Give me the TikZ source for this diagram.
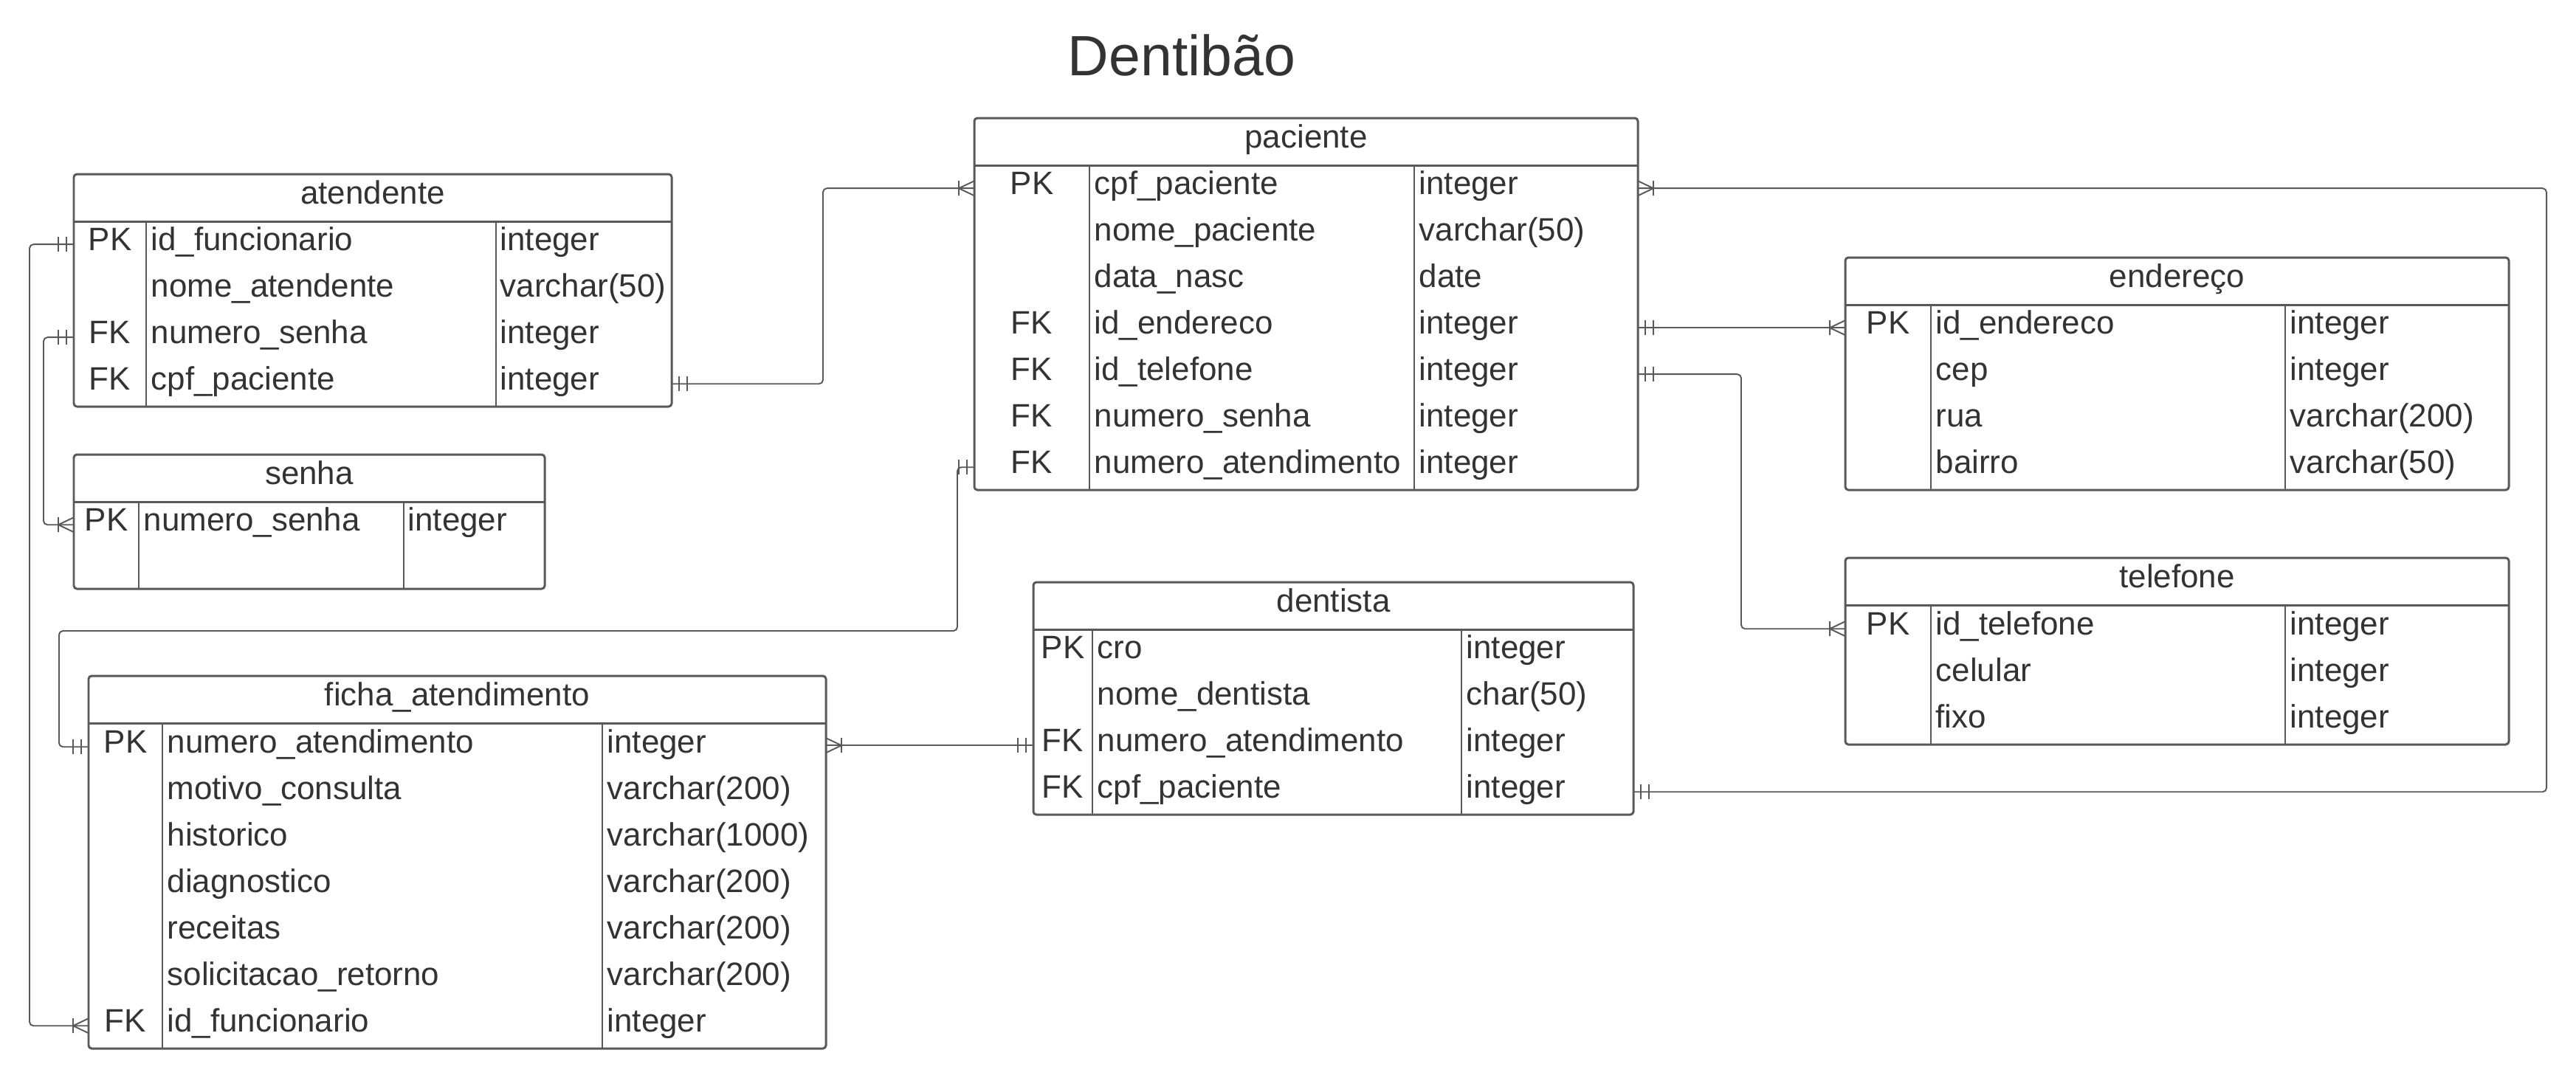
\documentclass[tikz,border=0pt]{standalone}
\usepackage{fontspec}
\setmainfont{Liberation Sans}
\usepackage{tikz}
\definecolor{linha}{HTML}{595959}
\definecolor{texto}{HTML}{333333}

\tikzset{
  tabela/.style={draw=linha, line width=0.85pt, rounded corners=1.2pt, anchor=north west, inner sep=0pt, outer sep=0pt},
  cabec/.style={anchor=north, inner sep=0pt, text height=0.40cm, text depth=0.23cm, text=texto, font=\fontsize{12.5}{15}\selectfont},
  chave/.style={cabec},
  campo/.style={cabec, anchor=north west},
  grade/.style={draw=linha, line width=0.85pt},
  fina/.style={draw=linha, line width=0.6pt},
  liga/.style={draw=linha, line width=0.55pt, rounded corners=1.5pt},
  um/.pic={\draw[liga, sharp corners] (0.10,-0.10) -- (0.10,0.10) (0.21,-0.10) -- (0.21,0.10);},
  muitos/.pic={\draw[liga, sharp corners] (0,0.10) -- (0.21,0) -- (0,-0.10) (0.21,-0.10) -- (0.21,0.10);},
}

\begin{document}
\begin{tikzpicture}
\useasboundingbox (0,0) rectangle (34.9,-14.6);

\node[font=\fontsize{21.9}{26}\selectfont, text=texto, anchor=base] (titulo) at (16.01,-1.02) {Dentibão};

% atendente
\node[tabela, minimum width=8.10cm, minimum height=3.15cm] (aten) at (1.00,-2.36) {};
\node[cabec] (aten-t) at (aten.north) {atendente};
\draw[grade] (aten.west |- aten-t.south) -- (aten.east |- aten-t.south);
\draw[fina] (1.98,-2.99) -- (1.98,-5.51);
\draw[fina] (6.72,-2.99) -- (6.72,-5.51);
\node[chave] (aten-k1) at (1.49,-2.99) {PK};
\node[campo] (aten-idf) at (2.04,-2.99) {id\_funcionario};
\node[campo] (aten-idf-t) at (6.77,-2.99) {integer};
\node[campo] (aten-nome) at (2.04,-3.62) {nome\_atendente};
\node[campo] (aten-nome-t) at (6.77,-3.62) {varchar(50)};
\node[chave] (aten-k3) at (1.49,-4.25) {FK};
\node[campo] (aten-ns) at (2.04,-4.25) {numero\_senha};
\node[campo] (aten-ns-t) at (6.77,-4.25) {integer};
\node[chave] (aten-k4) at (1.49,-4.88) {FK};
\node[campo] (aten-cpf) at (2.04,-4.88) {cpf\_paciente};
\node[campo] (aten-cpf-t) at (6.77,-4.88) {integer};

% senha
\node[tabela, minimum width=6.38cm, minimum height=1.82cm] (senha) at (1.00,-6.16) {};
\node[cabec] (senha-t) at (senha.north) {senha};
\draw[grade] (senha.west |- senha-t.south) -- (senha.east |- senha-t.south);
\draw[fina] (1.88,-6.79) -- (1.88,-7.98);
\draw[fina] (5.47,-6.79) -- (5.47,-7.98);
\node[chave] (senha-k1) at (1.44,-6.79) {PK};
\node[campo] (senha-ns) at (1.94,-6.79) {numero\_senha};
\node[campo] (senha-ns-t) at (5.52,-6.79) {integer};

% paciente
\node[tabela, minimum width=8.99cm, minimum height=5.04cm] (pac) at (13.20,-1.60) {};
\node[cabec] (pac-t) at (pac.north) {paciente};
\draw[grade] (pac.west |- pac-t.south) -- (pac.east |- pac-t.south);
\draw[fina] (14.76,-2.23) -- (14.76,-6.64);
\draw[fina] (19.16,-2.23) -- (19.16,-6.64);
\node[chave] (pac-k1) at (13.98,-2.23) {PK};
\node[campo] (pac-cpf) at (14.82,-2.23) {cpf\_paciente};
\node[campo] (pac-cpf-t) at (19.22,-2.23) {integer};
\node[campo] (pac-nome) at (14.82,-2.86) {nome\_paciente};
\node[campo] (pac-nome-t) at (19.22,-2.86) {varchar(50)};
\node[campo] (pac-data) at (14.82,-3.49) {data\_nasc};
\node[campo] (pac-data-t) at (19.22,-3.49) {date};
\node[chave] (pac-k4) at (13.98,-4.12) {FK};
\node[campo] (pac-end) at (14.82,-4.12) {id\_endereco};
\node[campo] (pac-end-t) at (19.22,-4.12) {integer};
\node[chave] (pac-k5) at (13.98,-4.75) {FK};
\node[campo] (pac-tel) at (14.82,-4.75) {id\_telefone};
\node[campo] (pac-tel-t) at (19.22,-4.75) {integer};
\node[chave] (pac-k6) at (13.98,-5.38) {FK};
\node[campo] (pac-ns) at (14.82,-5.38) {numero\_senha};
\node[campo] (pac-ns-t) at (19.22,-5.38) {integer};
\node[chave] (pac-k7) at (13.98,-6.01) {FK};
\node[campo] (pac-nat) at (14.82,-6.01) {numero\_atendimento};
\node[campo] (pac-nat-t) at (19.22,-6.01) {integer};

% endereço
\node[tabela, minimum width=8.99cm, minimum height=3.15cm] (ender) at (25.00,-3.49) {};
\node[cabec] (ender-t) at (ender.north) {endereço};
\draw[grade] (ender.west |- ender-t.south) -- (ender.east |- ender-t.south);
\draw[fina] (26.16,-4.12) -- (26.16,-6.64);
\draw[fina] (30.96,-4.12) -- (30.96,-6.64);
\node[chave] (ender-k1) at (25.58,-4.12) {PK};
\node[campo] (ender-id) at (26.22,-4.12) {id\_endereco};
\node[campo] (ender-id-t) at (31.02,-4.12) {integer};
\node[campo] (ender-cep) at (26.22,-4.75) {cep};
\node[campo] (ender-cep-t) at (31.02,-4.75) {integer};
\node[campo] (ender-rua) at (26.22,-5.38) {rua};
\node[campo] (ender-rua-t) at (31.02,-5.38) {varchar(200)};
\node[campo] (ender-bai) at (26.22,-6.01) {bairro};
\node[campo] (ender-bai-t) at (31.02,-6.01) {varchar(50)};

% telefone
\node[tabela, minimum width=8.99cm, minimum height=2.53cm] (tel) at (25.00,-7.56) {};
\node[cabec] (tel-t) at (tel.north) {telefone};
\draw[grade] (tel.west |- tel-t.south) -- (tel.east |- tel-t.south);
\draw[fina] (26.16,-8.19) -- (26.16,-10.09);
\draw[fina] (30.96,-8.19) -- (30.96,-10.09);
\node[chave] (tel-k1) at (25.58,-8.20) {PK};
\node[campo] (tel-id) at (26.22,-8.20) {id\_telefone};
\node[campo] (tel-id-t) at (31.02,-8.20) {integer};
\node[campo] (tel-cel) at (26.22,-8.83) {celular};
\node[campo] (tel-cel-t) at (31.02,-8.83) {integer};
\node[campo] (tel-fixo) at (26.22,-9.46) {fixo};
\node[campo] (tel-fixo-t) at (31.02,-9.46) {integer};

% dentista
\node[tabela, minimum width=8.13cm, minimum height=3.15cm] (dent) at (14.00,-7.89) {};
\node[cabec] (dent-t) at (dent.north) {dentista};
\draw[grade] (dent.west |- dent-t.south) -- (dent.east |- dent-t.south);
\draw[fina] (14.80,-8.52) -- (14.80,-11.04);
\draw[fina] (19.80,-8.52) -- (19.80,-11.04);
\node[chave] (dent-k1) at (14.40,-8.52) {PK};
\node[campo] (dent-cro) at (14.86,-8.52) {cro};
\node[campo] (dent-cro-t) at (19.86,-8.52) {integer};
\node[campo] (dent-nome) at (14.86,-9.15) {nome\_dentista};
\node[campo] (dent-nome-t) at (19.86,-9.15) {char(50)};
\node[chave] (dent-k3) at (14.40,-9.78) {FK};
\node[campo] (dent-nat) at (14.86,-9.78) {numero\_atendimento};
\node[campo] (dent-nat-t) at (19.86,-9.78) {integer};
\node[chave] (dent-k4) at (14.40,-10.41) {FK};
\node[campo] (dent-cpf) at (14.86,-10.41) {cpf\_paciente};
\node[campo] (dent-cpf-t) at (19.86,-10.41) {integer};

% ficha_atendimento
\node[tabela, minimum width=9.99cm, minimum height=5.05cm] (ficha) at (1.20,-9.16) {};
\node[cabec] (ficha-t) at (ficha.north) {ficha\_atendimento};
\draw[grade] (ficha.west |- ficha-t.south) -- (ficha.east |- ficha-t.south);
\draw[fina] (2.20,-9.79) -- (2.20,-14.21);
\draw[fina] (8.16,-9.79) -- (8.16,-14.21);
\node[chave] (ficha-k1) at (1.70,-9.80) {PK};
\node[campo] (ficha-nat) at (2.26,-9.80) {numero\_atendimento};
\node[campo] (ficha-nat-t) at (8.22,-9.80) {integer};
\node[campo] (ficha-mot) at (2.26,-10.43) {motivo\_consulta};
\node[campo] (ficha-mot-t) at (8.22,-10.43) {varchar(200)};
\node[campo] (ficha-his) at (2.26,-11.06) {historico};
\node[campo] (ficha-his-t) at (8.22,-11.06) {varchar(1000)};
\node[campo] (ficha-dia) at (2.26,-11.69) {diagnostico};
\node[campo] (ficha-dia-t) at (8.22,-11.69) {varchar(200)};
\node[campo] (ficha-rec) at (2.26,-12.32) {receitas};
\node[campo] (ficha-rec-t) at (8.22,-12.32) {varchar(200)};
\node[campo] (ficha-sol) at (2.26,-12.95) {solicitacao\_retorno};
\node[campo] (ficha-sol-t) at (8.22,-12.95) {varchar(200)};
\node[chave] (ficha-k7) at (1.70,-13.58) {FK};
\node[campo] (ficha-idf) at (2.26,-13.58) {id\_funcionario};
\node[campo] (ficha-idf-t) at (8.22,-13.58) {integer};

% ligacoes
\draw[liga] (aten.east |- aten-cpf) -| (11.15,-4.0) |- (pac.west |- pac-cpf);
\pic at (aten.east |- aten-cpf) {um};
\pic[rotate=180] at (pac.west |- pac-cpf) {muitos};

\draw[liga] (pac.west |- pac-nat) -| (12.97,-8.55) -| (0.80,-9.50) |- (ficha.west |- ficha-nat);
\pic[rotate=180] at (pac.west |- pac-nat) {um};
\pic[rotate=180] at (ficha.west |- ficha-nat) {um};

\draw[liga] (aten.west |- aten-idf) -| (0.40,-12.0) |- (ficha.west |- ficha-idf);
\pic[rotate=180] at (aten.west |- aten-idf) {um};
\pic[rotate=180] at (ficha.west |- ficha-idf) {muitos};

\draw[liga] (aten.west |- aten-ns) -| (0.59,-6.0) |- (senha.west |- senha-ns);
\pic[rotate=180] at (aten.west |- aten-ns) {um};
\pic[rotate=180] at (senha.west |- senha-ns) {muitos};

\draw[liga] (pac.east |- pac-end) -- (ender.west |- ender-id);
\pic at (pac.east |- pac-end) {um};
\pic[rotate=180] at (ender.west |- ender-id) {muitos};

\draw[liga] (pac.east |- pac-tel) -| (23.59,-7.0) |- (tel.west |- tel-id);
\pic at (pac.east |- pac-tel) {um};
\pic[rotate=180] at (tel.west |- tel-id) {muitos};

\draw[liga] (ficha.east |- dent-nat) -- (dent.west |- dent-nat);
\pic at (ficha.east |- dent-nat) {muitos};
\pic[rotate=180] at (dent.west |- dent-nat) {um};

\draw[liga] (dent.east |- dent-cpf) -| (34.50,-6.0) |- (pac.east |- pac-cpf);
\pic at (dent.east |- dent-cpf) {um};
\pic at (pac.east |- pac-cpf) {muitos};

\end{tikzpicture}
\end{document}
